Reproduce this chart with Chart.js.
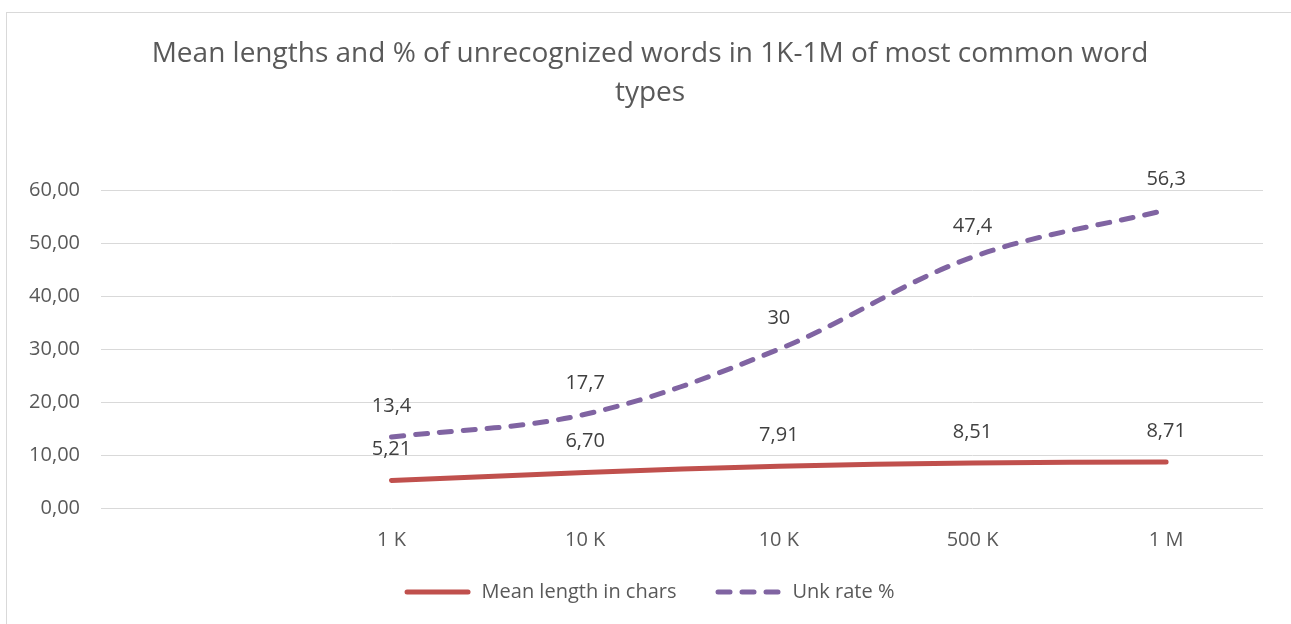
<!DOCTYPE html>
<html>
<head>
<meta charset="utf-8">
<script src="https://cdn.jsdelivr.net/npm/chart.js@4.4.0/dist/chart.umd.min.js"></script>
<style>
  html, body { margin: 0; padding: 0; background: #fff; overflow: hidden; }
  #frame { position: absolute; left: 6px; top: 12px; width: 2000px; height: 2000px; border: 1px solid #d9d9d9; }
  #wrap { position: absolute; left: 0; top: 0; width: 1291px; height: 624px; }
</style>
</head>
<body>
<div id="frame"></div>
<div id="wrap"><canvas id="chart"></canvas></div>
<script>
// Categories (first slot is empty in the original sheet)
const LABELS = ["", "1 K", "10 K", "10 K", "500 K", "1 M"];
const MEAN_LENGTH = [null, 5.21, 6.70, 7.91, 8.51, 8.71];
const UNK_RATE = [null, 13.4, 17.7, 30, 47.4, 56.3];

const TITLE_LINES = [
  "Mean lengths and % of unrecognized words in 1K-1M of most common word",
  "types",
];

const FONT = "'Open Sans', sans-serif";

const fmtComma = (v, digits) =>
  (digits === undefined ? String(v) : v.toFixed(digits)).replace(".", ",");

// how each series' point labels are written
const LABEL_FORMATS = [(v) => fmtComma(v, 2), (v) => fmtComma(v)];

// Draw the value labels above each point
const valueLabels = {
  id: "valueLabels",
  afterDatasetsDraw(chart) {
    const ctx = chart.ctx;
    ctx.save();
    ctx.font = `20px ${FONT}`;
    ctx.fillStyle = "#404040";
    ctx.textAlign = "center";
    ctx.textBaseline = "middle";
    chart.data.datasets.forEach((ds, i) => {
      chart.getDatasetMeta(i).data.forEach((pt, j) => {
        const v = ds.data[j];
        if (v === null || v === undefined) return;
        ctx.fillText(LABEL_FORMATS[i](v), pt.x, pt.y - 31);
      });
    });
    ctx.restore();
  },
};

// Excel-like legend: long line samples, centred under the chart
const lineLegend = {
  id: "lineLegend",
  afterDraw(chart) {
    const ctx = chart.ctx;
    const sample = 66;
    const textGap = 11;
    const itemGap = 39;
    const y = 592;
    ctx.save();
    ctx.font = `20px ${FONT}`;
    const items = chart.data.datasets.map((ds) => ({
      ds,
      w: ctx.measureText(ds.label).width,
    }));
    const total =
      items.reduce((s, it) => s + sample + textGap + it.w, 0) +
      itemGap * (items.length - 1);
    let x = chart.width / 2 + 4 - total / 2;
    items.forEach((it) => {
      ctx.strokeStyle = it.ds.borderColor;
      ctx.lineWidth = it.ds.borderWidth;
      ctx.lineCap = "round";
      ctx.setLineDash(it.ds.borderDash || []);
      ctx.beginPath();
      ctx.moveTo(x + 2.5, y);
      ctx.lineTo(x + sample - 2.5, y);
      ctx.stroke();
      ctx.setLineDash([]);
      ctx.fillStyle = "#595959";
      ctx.textAlign = "left";
      ctx.textBaseline = "middle";
      ctx.fillText(it.ds.label, x + sample + textGap, y);
      x += sample + textGap + it.w + itemGap;
    });
    ctx.restore();
  },
};

// nudge the title a little to the right, as in the original
const titleShift = {
  id: "titleShift",
  afterLayout(chart) {
    if (chart.titleBlock) chart.titleBlock.left += 17;
  },
};

new Chart(document.getElementById("chart"), {
  type: "line",
  data: {
    labels: LABELS,
    datasets: [
      {
        label: "Mean length in chars",
        data: MEAN_LENGTH,
        borderColor: "#c0504d",
        borderWidth: 5,
        borderCapStyle: "round",
        tension: 0.35,
        pointRadius: 0,
        pointHoverRadius: 0,
        fill: false,
      },
      {
        label: "Unk rate %",
        data: UNK_RATE,
        borderColor: "#8064a2",
        borderWidth: 5,
        borderDash: [12, 12],
        borderCapStyle: "round",
        tension: 0.35,
        pointRadius: 0,
        pointHoverRadius: 0,
        fill: false,
      },
    ],
  },
  options: {
    responsive: true,
    maintainAspectRatio: false,
    animation: false,
    layout: {
      padding: { left: 20, right: 28, top: 0, bottom: 0 },
    },
    plugins: {
      legend: { display: false },
      tooltip: { enabled: false },
      title: {
        display: true,
        text: TITLE_LINES,
        color: "#595959",
        font: { family: FONT, size: 28, weight: "normal", lineHeight: 1.4 },
        padding: { top: 34, bottom: 78 },
      },
    },
    scales: {
      x: {
        offset: true,
        grid: { display: false, drawTicks: false, offset: true },
        border: { display: false },
        ticks: {
          color: "#595959",
          font: { family: FONT, size: 20 },
          padding: 20,
          maxRotation: 0,
          autoSkip: false,
        },
        afterFit(scale) {
          scale.height = 116;
          scale.paddingLeft = 0;
          scale.paddingRight = 0;
        },
      },
      y: {
        min: 0,
        max: 60,
        grid: { color: "#d9d9d9", lineWidth: 1, drawTicks: false },
        border: { display: false },
        ticks: {
          stepSize: 10,
          color: "#595959",
          font: { family: FONT, size: 20 },
          padding: 21,
          callback: (v) => fmtComma(v, 2),
        },
        afterFit(scale) {
          scale.width = 81;
        },
      },
    },
  },
  plugins: [valueLabels, lineLegend, titleShift],
});
</script>
</body>
</html>
